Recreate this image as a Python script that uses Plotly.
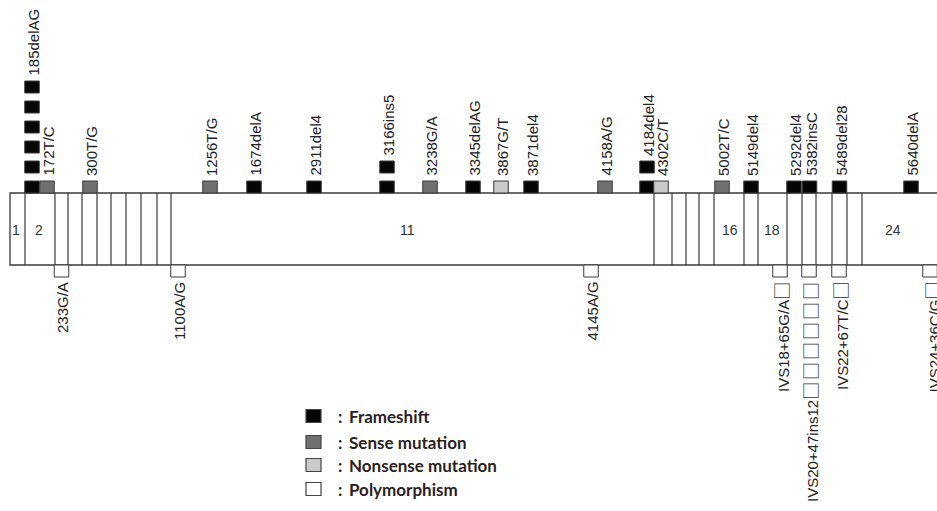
import plotly.graph_objects as go

# ---------------- data ----------------
# exon boundaries along the schematic (diagram units)
exon_bounds = [10, 25, 55, 68, 82, 97, 111, 126, 141, 157, 171, 654, 672, 686, 699,
               714, 744, 758, 787, 802, 816, 832, 847, 862, 950]
exon_labels = ["1", "2", "11", "16", "18", "24"]
exon_label_pos = [15.5, 39, 407, 730, 772, 893]

# mutations above the gene (F = frameshift, S = sense, N = nonsense)
mut_names = ["185delAG", "172T/C", "300T/G", "1256T/G", "1674delA", "2911del4",
             "3166ins5", "3238G/A", "3345delAG", "3867G/T", "3871del4", "4158A/G",
             "4184del4", "4302C/T", "5002T/C", "5149del4", "5292del4", "5382insC",
             "5489del28", "5640delA"]
mut_pos = [32, 47, 90, 210, 254, 314, 387, 430, 473, 501, 531, 605,
           647, 661, 722, 751, 794, 809.5, 839.5, 911]
mut_type = ["F", "S", "S", "S", "F", "F", "F", "S", "F", "N", "F", "S",
            "F", "N", "S", "F", "F", "F", "F", "F"]
mut_count = [6, 1, 1, 1, 1, 1, 2, 1, 1, 1, 1, 1, 2, 1, 1, 1, 1, 1, 1, 1]

# polymorphisms below the gene (label text, trailing box glyph count)
poly_names = ["233G/A", "1100A/G", "4145A/G", "IVS18+65G/A", "IVS20+47ins12",
              "IVS22+67T/C", "IVS24+36C/G"]
poly_glyphs = [0, 0, 0, 1, 6, 1, 1]
poly_pos = [61.5, 178, 591, 780, 809, 839, 930]

legend_keys = ["F", "S", "N", "P"]
legend_names = ["Frameshift", "Sense mutation", "Nonsense mutation", "Polymorphism"]

# ---------------- style ----------------
fill = {"F": "#050505", "S": "#707070", "N": "#cacaca", "P": "#ffffff"}
edge = "#3a3a3a"
BOX_TOP, BOX_BOT = 193, 265
MW, MH, STEP = 14.5, 12, 20
label_font = dict(family="Liberation Sans, Arial, DejaVu Sans", size=15, color="#222222")
glyph = ('<span style="font-family:\'Noto Sans CJK SC\';font-size:18px;color:#333333">□</span>')
gap = '<span style="font-size:7px"> </span>'

fig = go.Figure()
shapes = []
ann = []

# gene body
shapes.append(dict(type="rect", x0=exon_bounds[0], x1=exon_bounds[-1], y0=BOX_TOP, y1=BOX_BOT,
                   line=dict(color=edge, width=1.3), fillcolor="white", layer="below"))
for b in exon_bounds[1:-1]:
    shapes.append(dict(type="line", x0=b, x1=b, y0=BOX_TOP, y1=BOX_BOT,
                       line=dict(color=edge, width=1.2)))
for t, p in zip(exon_labels, exon_label_pos):
    ann.append(dict(x=p, y=230, text=t, showarrow=False, xanchor="center", yanchor="middle",
                    font=dict(family="Liberation Sans, Arial", size=14, color="#333333")))

# mutations
for name, p, t, c in zip(mut_names, mut_pos, mut_type, mut_count):
    for k in range(c):
        y1 = BOX_TOP - STEP * k
        shapes.append(dict(type="rect", x0=p - MW / 2, x1=p + MW / 2, y0=y1 - MH, y1=y1,
                           line=dict(color=edge, width=1), fillcolor=fill[t]))
    top = BOX_TOP - STEP * (c - 1) - MH
    ann.append(dict(x=p + 1, y=top - 3, text=name, showarrow=False, textangle=-90,
                    xanchor="center", yanchor="bottom", font=label_font))

# polymorphisms
for name, g, p in zip(poly_names, poly_glyphs, poly_pos):
    shapes.append(dict(type="rect", x0=p - MW / 2, x1=p + MW / 2, y0=BOX_BOT, y1=BOX_BOT + MH,
                       line=dict(color=edge, width=1), fillcolor=fill["P"]))
    text = name + gap.join([glyph] * g)
    ann.append(dict(x=p + 1, y=BOX_BOT + MH + 3, text=text, showarrow=False,
                    textangle=-90, xanchor="center", yanchor="top", font=label_font))

# legend
leg_y = [416, 442, 465, 489]
for k, n, y in zip(legend_keys, legend_names, leg_y):
    shapes.append(dict(type="rect", x0=306, x1=321, y0=y - 6.5, y1=y + 6.5,
                       line=dict(color="#444444", width=1.2), fillcolor=fill[k]))
    ann.append(dict(x=340, y=y, text="<b>:</b>", showarrow=False, xanchor="center",
                    yanchor="middle",
                    font=dict(family="Lato, Open Sans", size=17, color="#2a1e1e")))
    ann.append(dict(x=347, y=y, text="<b>" + n + "</b>", showarrow=False, xanchor="left",
                    yanchor="middle",
                    font=dict(family="Lato, Open Sans", size=17, color="#2a1e1e")))

fig.update_layout(
    width=937, height=511, margin=dict(l=0, r=0, t=0, b=0),
    paper_bgcolor="white", plot_bgcolor="white",
    xaxis=dict(range=[0, 937], visible=False, fixedrange=True),
    yaxis=dict(range=[511, 0], visible=False, fixedrange=True),
    shapes=shapes, annotations=ann, showlegend=False,
)
fig.write_html(
    "out.html",
    config={"displayModeBar": False},
    post_script="document.body.style.margin='0';document.body.style.overflow='hidden';",
)
